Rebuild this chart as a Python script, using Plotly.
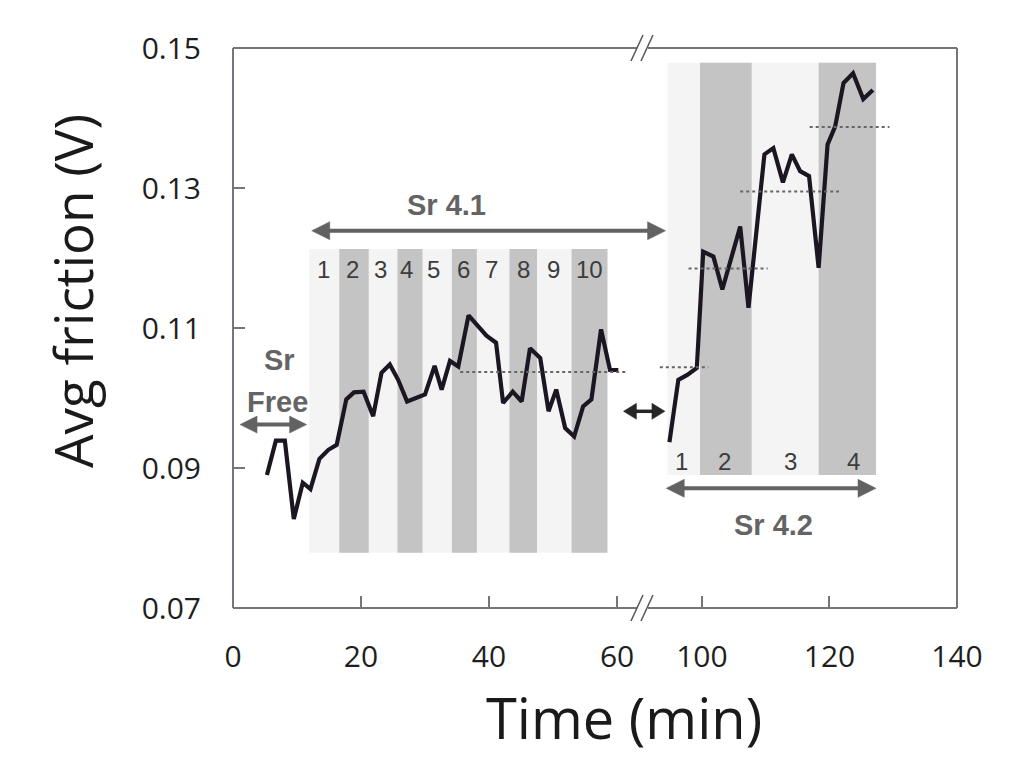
import plotly.graph_objects as go

# ---------------- data ----------------
left_time = [5.3, 6.7, 8.1, 9.5, 10.9, 12.1, 13.5, 14.9, 16.2, 17.7, 18.9, 20.4, 21.9, 23.2,
             24.5, 25.8, 27.2, 28.7, 30.0, 31.5, 32.6, 33.9, 35.2, 36.8, 38.1, 39.6, 41.1,
             42.2, 43.7, 45.1, 46.4, 48.0, 49.3, 50.5, 51.9, 53.3, 54.7, 56.0, 57.5, 58.9, 60.2]
left_friction = [0.0890, 0.0939, 0.0939, 0.0827, 0.0879, 0.0870, 0.0913, 0.0926, 0.0933, 0.0998,
                 0.1008, 0.1009, 0.0974, 0.1036, 0.1048, 0.1026, 0.0995, 0.1000, 0.1005, 0.1046,
                 0.1012, 0.1053, 0.1045, 0.1118, 0.1105, 0.1089, 0.1079, 0.0993, 0.1009, 0.0995,
                 0.1071, 0.1057, 0.0981, 0.1012, 0.0957, 0.0945, 0.0988, 0.0998, 0.1098, 0.1040,
                 0.1040]
right_time = [94.9, 96.3, 97.7, 99.2, 100.2, 101.8, 103.2, 104.7, 106.0, 107.3, 108.5, 109.8,
              111.2, 112.7, 114.1, 115.4, 116.8, 118.3, 119.7, 120.9, 122.2, 123.7, 125.3, 126.8]
right_friction = [0.0937, 0.1026, 0.1033, 0.1043, 0.1209, 0.1202, 0.1155, 0.1202, 0.1245, 0.1129,
                  0.1240, 0.1348, 0.1357, 0.1308, 0.1348, 0.1324, 0.1317, 0.1186, 0.1362, 0.1388,
                  0.1450, 0.1464, 0.1427, 0.1440]

y_ticks = [0.07, 0.09, 0.11, 0.13, 0.15]
left_x_ticks = [0, 20, 40, 60]
right_x_ticks = [100, 120, 140]

left_band_span = [11.9, 58.5]
left_band_dark = [[16.6, 21.2], [25.7, 29.6], [34.2, 38.1], [43.2, 47.5], [52.9, 58.5]]
left_band_y = [0.0779, 0.1213]
left_band_labels = ["1", "2", "3", "4", "5", "6", "7", "8", "9", "10"]
left_band_label_x = [14.2, 18.6, 23.1, 27.1, 31.4, 36.0, 40.4, 45.4, 50.0, 55.7]
left_band_label_y = 0.1183

right_band_span = [94.6, 127.3]
right_band_dark = [[99.7, 107.8], [118.3, 127.3]]
right_band_y = [0.0890, 0.1479]
right_band_labels = ["1", "2", "3", "4"]
right_band_label_x = [96.8, 103.6, 113.9, 123.7]
right_band_label_y = 0.0909

left_means = [[35.5, 61.3, 0.1037]]
right_means = [[93.4, 101.0, 0.1044], [97.9, 110.3, 0.1185],
               [106.0, 121.5, 0.1295], [116.9, 129.4, 0.1387]]

# arrows: [axis of start, start, axis of end, end, y]
arrow_sr_free = ["L", 1.1, "L", 11.5, 0.0962]
arrow_sr41 = ["L", 12.3, "R", 94.3, 0.1239]
arrow_gap = ["L", 61.0, "R", 94.2, 0.0981]
arrow_sr42 = ["R", 94.4, "R", 127.3, 0.0871]

# ---------------- layout geometry ----------------
W, H = 1022, 783
OFS = 8  # page body margin
ML, MT = 233 - OFS, 48 - OFS
PW, PH = 724, 560
MR, MB = W - ML - PW, H - MT - PH
SPLIT_PX = 642 - OFS
split = (SPLIT_PX - ML) / PW
XL = [0, 63.9]
XR = [90.6, 140]
YR = [0.07, 0.15]


def xp(axis, t):
    if axis == "L":
        return (t - XL[0]) / (XL[1] - XL[0]) * split
    return split + (t - XR[0]) / (XR[1] - XR[0]) * (1 - split)


def yp(v):
    return (v - YR[0]) / (YR[1] - YR[0])


def paper_x(screen_x):
    return (screen_x - OFS - ML) / PW


def paper_y(screen_y):
    return (MT + PH - (screen_y - OFS)) / PH


fig = go.Figure()

line_col = "#1c1622"
fig.add_trace(go.Scatter(x=left_time, y=left_friction, mode="lines", xaxis="x", yaxis="y",
                         line=dict(color=line_col, width=4.2), showlegend=False))
fig.add_trace(go.Scatter(x=right_time, y=right_friction, mode="lines", xaxis="x2", yaxis="y",
                         line=dict(color=line_col, width=4.2), showlegend=False))

for x0, x1, v in left_means:
    fig.add_trace(go.Scatter(x=[x0, x1], y=[v, v], mode="lines", xaxis="x", yaxis="y",
                             line=dict(color="#666666", width=2, dash="3px,3px"),
                             showlegend=False))
for x0, x1, v in right_means:
    fig.add_trace(go.Scatter(x=[x0, x1], y=[v, v], mode="lines", xaxis="x2", yaxis="y",
                             line=dict(color="#666666", width=2, dash="3px,3px"),
                             showlegend=False))

shapes = []
LIGHT, DARK = "#f4f4f4", "#c4c4c4"
shapes.append(dict(type="rect", xref="x", yref="y", x0=left_band_span[0], x1=left_band_span[1],
                   y0=left_band_y[0], y1=left_band_y[1], fillcolor=LIGHT, line_width=0,
                   layer="below"))
for a, b in left_band_dark:
    shapes.append(dict(type="rect", xref="x", yref="y", x0=a, x1=b, y0=left_band_y[0],
                       y1=left_band_y[1], fillcolor=DARK, line_width=0, layer="below"))
shapes.append(dict(type="rect", xref="x2", yref="y", x0=right_band_span[0], x1=right_band_span[1],
                   y0=right_band_y[0], y1=right_band_y[1], fillcolor=LIGHT, line_width=0,
                   layer="below"))
for a, b in right_band_dark:
    shapes.append(dict(type="rect", xref="x2", yref="y", x0=a, x1=b, y0=right_band_y[0],
                       y1=right_band_y[1], fillcolor=DARK, line_width=0, layer="below"))

# frame with break
FRAME = "#77737f"
gap_l = (SPLIT_PX - 5 - ML) / PW
gap_r = (SPLIT_PX + 6 - ML) / PW
for yy in (0, 1):
    shapes.append(dict(type="line", xref="paper", yref="paper", x0=0, x1=gap_l, y0=yy, y1=yy,
                       line=dict(color=FRAME, width=2)))
    shapes.append(dict(type="line", xref="paper", yref="paper", x0=gap_r, x1=1, y0=yy, y1=yy,
                       line=dict(color=FRAME, width=2)))
for xx in (0, 1):
    shapes.append(dict(type="line", xref="paper", yref="paper", x0=xx, x1=xx, y0=0, y1=1,
                       line=dict(color=FRAME, width=2)))
# break slashes
for yy in (0, 1):
    for off in (-5, 5):
        cx = (SPLIT_PX + off - ML) / PW
        shapes.append(dict(type="line", xref="paper", yref="paper",
                           x0=cx - 6 / PW, x1=cx + 6 / PW, y0=yy - 13 / PH, y1=yy + 13 / PH,
                           line=dict(color="#555555", width=1.5)))


def add_arrow(spec, color, head_len, head_half, width):
    a0, t0, a1, t1, v = spec
    x0, x1, y = xp(a0, t0), xp(a1, t1), yp(v)
    hx, hy = head_len / PW, head_half / PH
    shapes.append(dict(type="line", xref="paper", yref="paper", x0=x0 + hx * 0.8,
                       x1=x1 - hx * 0.8, y0=y, y1=y, line=dict(color=color, width=width)))
    shapes.append(dict(type="path", xref="paper", yref="paper",
                       path=f"M{x0},{y} L{x0 + hx},{y + hy} L{x0 + hx},{y - hy} Z",
                       fillcolor=color, line=dict(color=color, width=0.5)))
    shapes.append(dict(type="path", xref="paper", yref="paper",
                       path=f"M{x1},{y} L{x1 - hx},{y + hy} L{x1 - hx},{y - hy} Z",
                       fillcolor=color, line=dict(color=color, width=0.5)))


ARROW = "#626262"
add_arrow(arrow_sr_free, ARROW, 17, 8.5, 4)
add_arrow(arrow_sr41, ARROW, 18, 9, 4)
add_arrow(arrow_sr42, ARROW, 18, 9, 4)
add_arrow(arrow_gap, "#262626", 13, 8, 3.5)

annotations = []
BANDFONT = dict(family="Liberation Sans", size=24, color="#3c3c3c")
for lab, x in zip(left_band_labels, left_band_label_x):
    annotations.append(dict(text=lab, x=x, y=left_band_label_y, xref="x", yref="y",
                            showarrow=False, font=BANDFONT))
for lab, x in zip(right_band_labels, right_band_label_x):
    annotations.append(dict(text=lab, x=x, y=right_band_label_y, xref="x2", yref="y",
                            showarrow=False, font=BANDFONT))

SRFONT = dict(family="Liberation Sans", size=29, color="#646464", weight="bold")
annotations.append(dict(text="Sr 4.1", x=33.4, y=0.1276, xref="x", yref="y", showarrow=False,
                        font=SRFONT))
annotations.append(dict(text="Sr 4.2", x=111.3, y=0.0819, xref="x2", yref="y", showarrow=False,
                        font=SRFONT))
annotations.append(dict(text="Sr", x=7.2, y=0.1055, xref="x", yref="y", showarrow=False,
                        font=SRFONT))
annotations.append(dict(text="Free", x=7.0, y=0.0995, xref="x", yref="y", showarrow=False,
                        font=SRFONT))

annotations.append(dict(text="Time (min)", x=paper_x(623.5), y=paper_y(717),
                        xref="paper", yref="paper", xanchor="center", yanchor="middle",
                        showarrow=False,
                        font=dict(family="Open Sans", size=56, color="#1a1a1a")))
annotations.append(dict(text="Avg friction (V)", x=paper_x(72), y=paper_y(291),
                        xref="paper", yref="paper", xanchor="center", yanchor="middle",
                        showarrow=False, textangle=-90,
                        font=dict(family="Open Sans", size=53, color="#1a1a1a")))

TICKFONT = dict(family="Open Sans", size=30, color="#1e1e1e")
common = dict(ticks="inside", ticklen=12, tickwidth=2, tickcolor=FRAME, showgrid=False,
              zeroline=False, showline=False, tickfont=TICKFONT)
fig.update_layout(
    width=W, height=H, autosize=False,
    margin=dict(l=ML, r=MR, t=MT, b=MB, pad=0),
    paper_bgcolor="white", plot_bgcolor="white",
    showlegend=False,
    shapes=shapes, annotations=annotations,
    xaxis=dict(domain=[0, split], range=XL, tickvals=left_x_ticks,
               ticktext=[str(v) for v in left_x_ticks], ticklabelstandoff=28, anchor="y",
               **common),
    xaxis2=dict(domain=[split, 1], range=XR, tickvals=right_x_ticks,
                ticktext=[str(v) for v in right_x_ticks], ticklabelstandoff=28, anchor="y",
                **common),
    yaxis=dict(domain=[0, 1], range=YR, tickvals=y_ticks,
               ticktext=[f"{v:.2f}" for v in y_ticks], ticklabelstandoff=31, anchor="x",
               **common),
)

fig.write_html("out.html")
